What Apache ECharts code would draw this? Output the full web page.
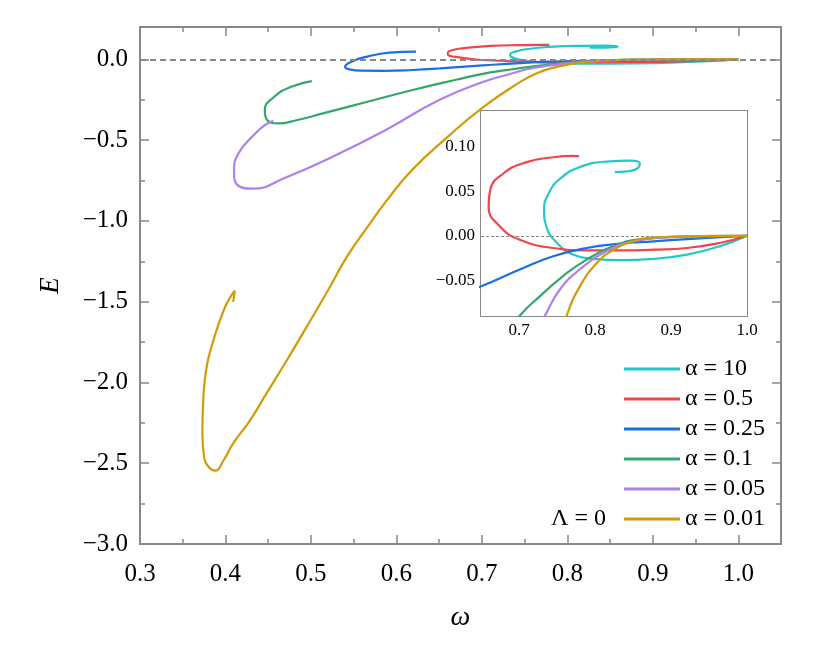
<!DOCTYPE html>
<html>
<head>
<meta charset="utf-8">
<script src="https://cdn.jsdelivr.net/npm/echarts@6/dist/echarts.min.js"></script>
<style>
    html, body { margin: 0; background: #fff; }
    #chart { width: 814px; height: 657px; }
</style>
</head>
<body>
<div id="chart"></div>
<script>
// curves E(omega), ordered from omega = 1 to the spiral end
const names = ['α = 10', 'α = 0.5', 'α = 0.25', 'α = 0.1', 'α = 0.05', 'α = 0.01']
const colors = ['#22c9c9', '#f2444b', '#1b6fe6', '#36a56d', '#ad80ee', '#d19b07']

const w10 = [1.0, 0.964, 0.921, 0.877, 0.833, 0.798, 0.771, 0.750, 0.736, 0.733, 0.739, 0.754, 0.780, 0.815, 0.846, 0.859, 0.855, 0.842, 0.826]
const e10 = [0, -0.0119, -0.0211, -0.0259, -0.0274, -0.0259, -0.0211, -0.0081, 0.0104, 0.0289, 0.0474, 0.064, 0.077, 0.0833, 0.0844, 0.0807, 0.0752, 0.0722, 0.0715]

const w05 = [1.0, 0.964, 0.921, 0.877, 0.833, 0.789, 0.745, 0.701, 0.675, 0.660, 0.662, 0.679, 0.710, 0.745, 0.771, 0.779]
const e05 = [0, -0.0081, -0.0137, -0.0156, -0.0163, -0.0163, -0.0137, -0.0044, 0.0104, 0.0326, 0.0511, 0.0696, 0.0826, 0.0881, 0.0896, 0.0890]

const w025 = [1.0, 0.965, 0.921, 0.877, 0.833, 0.789, 0.745, 0.701, 0.651, 0.619, 0.585, 0.560, 0.545, 0.540, 0.548, 0.566, 0.592, 0.623]
const e025 = [0, -0.0015, -0.0037, -0.0063, -0.0089, -0.0137, -0.023, -0.0378, -0.0563, -0.066, -0.071, -0.070, -0.062, -0.046, -0.014, 0.017, 0.041, 0.048]

const w01 = [1.0, 0.92, 0.855, 0.824, 0.789, 0.758, 0.728, 0.701, 0.671, 0.619, 0.566, 0.514, 0.483, 0.462, 0.449, 0.446, 0.457, 0.477, 0.501]
const e01 = [0, -0.0007, -0.0044, -0.0119, -0.0267, -0.0452, -0.0674, -0.0897, -0.125, -0.190, -0.263, -0.335, -0.377, -0.397, -0.377, -0.315, -0.232, -0.170, -0.135]

const w005 = [1.0, 0.95, 0.9, 0.85, 0.815, 0.78, 0.754, 0.734, 0.702, 0.65, 0.587, 0.525, 0.472, 0.431, 0.416, 0.410, 0.415, 0.431, 0.446, 0.456]
const e005 = [0, -0.0003, -0.0015, -0.0063, -0.0174, -0.0378, -0.060, -0.0897, -0.139, -0.252, -0.439, -0.604, -0.728, -0.801, -0.786, -0.687, -0.584, -0.480, -0.408, -0.381]

const w001 = [1.0, 0.95, 0.92, 0.876, 0.85, 0.824, 0.803, 0.78, 0.763, 0.745, 0.702, 0.66, 0.618, 0.589, 0.565, 0.542, 0.519, 0.495, 0.472, 0.448, 0.429, 0.409, 0.398, 0.388, 0.380, 0.375, 0.373, 0.374, 0.378, 0.386, 0.398, 0.407, 0.411, 0.409]
const e001 = [0, -0.0002, -0.0008, -0.002, -0.0063, -0.016, -0.030, -0.057, -0.089, -0.14, -0.294, -0.48, -0.687, -0.872, -1.047, -1.223, -1.439, -1.656, -1.861, -2.068, -2.233, -2.377, -2.48, -2.546, -2.52, -2.459, -2.315, -2.109, -1.903, -1.738, -1.552, -1.46, -1.433, -1.501]

const omegas = [w10, w05, w025, w01, w005, w001]
const energies = [e10, e05, e025, e01, e005, e001]

// tick values
const mainXMajor = [0.3, 0.4, 0.5, 0.6, 0.7, 0.8, 0.9, 1.0]
const mainXMinor = [0.35, 0.45, 0.55, 0.65, 0.75, 0.85, 0.95]
const mainYMajor = [-3, -2.5, -2, -1.5, -1, -0.5, 0]
const mainYMinor = [-2.75, -2.25, -1.75, -1.25, -0.75, -0.25]
const insetXMajor = [0.7, 0.8, 0.9, 1.0]
const insetXMinor = [0.75, 0.85, 0.95]
const insetYMajor = [-0.05, 0, 0.05, 0.1]
const insetYMinor = [-0.075, -0.025, 0.025, 0.075, 0.125]

const serif = 'Liberation Serif, DejaVu Serif, serif'
const axisGray = '#888'

const fmt = (digits) => (v) => {
    const s = Math.abs(v).toFixed(digits)
    return v < -1e-9 ? '\u2212' + s : s
}

// one axis = one side, either major (with labels) or minor ticks
function axis(grid, pos, min, max, ticks, len, extra) {
    return Object.assign({
        type: 'value',
        gridIndex: grid,
        position: pos,
        min: min,
        max: max,
        axisLine: { show: true, onZero: false, lineStyle: { color: axisGray, width: 2 } },
        axisTick: { show: true, inside: true, length: len, customValues: ticks, lineStyle: { color: axisGray, width: 1.5 } },
        axisLabel: { show: false },
        splitLine: { show: false }
    }, extra || {})
}

const mainXLabel = { show: true, customValues: mainXMajor, formatter: fmt(1), margin: 18, fontFamily: serif, fontSize: 25, color: '#000' }
const mainYLabel = { show: true, customValues: mainYMajor, formatter: fmt(1), margin: 12, fontFamily: serif, fontSize: 25, color: '#000' }
const insetXLabel = { show: true, customValues: insetXMajor, formatter: fmt(1), margin: 6, fontFamily: serif, fontSize: 17, color: '#000' }
const insetYLabel = { show: true, customValues: insetYMajor, formatter: fmt(2), margin: 6, fontFamily: serif, fontSize: 17, color: '#000' }

const xAxes = [
    axis(0, 'bottom', 0.3, 1.05, mainXMajor, 9, {
        axisLabel: mainXLabel,
        name: 'ω', nameLocation: 'middle', nameGap: 60,
        nameTextStyle: { fontFamily: serif, fontStyle: 'italic', fontSize: 28, color: '#000' }
    }),
    axis(0, 'bottom', 0.3, 1.05, mainXMinor, 5),
    axis(0, 'top', 0.3, 1.05, mainXMajor, 9),
    axis(0, 'top', 0.3, 1.05, mainXMinor, 5),
    axis(1, 'bottom', 0.65, 1.0, insetXMajor, 4, { axisLabel: insetXLabel }),
    axis(1, 'bottom', 0.65, 1.0, insetXMinor, 2),
    axis(1, 'top', 0.65, 1.0, insetXMajor, 4),
    axis(1, 'top', 0.65, 1.0, insetXMinor, 2)
]
const yAxes = [
    axis(0, 'left', -3, 0.2, mainYMajor, 9, {
        axisLabel: mainYLabel,
        name: 'E', nameLocation: 'middle', nameGap: 76, nameRotate: 90,
        nameTextStyle: { fontFamily: serif, fontStyle: 'italic', fontSize: 27, color: '#000' }
    }),
    axis(0, 'left', -3, 0.2, mainYMinor, 5),
    axis(0, 'right', -3, 0.2, mainYMajor, 9),
    axis(0, 'right', -3, 0.2, mainYMinor, 5),
    axis(1, 'left', -0.09, 0.14, insetYMajor, 4, { axisLabel: insetYLabel }),
    axis(1, 'left', -0.09, 0.14, insetYMinor, 2),
    axis(1, 'right', -0.09, 0.14, insetYMajor, 4),
    axis(1, 'right', -0.09, 0.14, insetYMinor, 2)
]

const series = []
names.forEach((name, i) => {
    const data = omegas[i].map((w, k) => [w, energies[i][k]])
    // main panel
    series.push({
        name: name, type: 'line', xAxisIndex: 0, yAxisIndex: 0,
        data: data, smooth: 0.5, symbol: 'none', clip: true,
        lineStyle: { color: colors[i], width: 2.2 }, itemStyle: { color: colors[i] },
        z: 3,
        markLine: i === 0 ? {
            silent: true, symbol: 'none', label: { show: false },
            lineStyle: { color: '#888', type: [6, 4], width: 2 },
            data: [{ yAxis: 0 }]
        } : undefined
    })
    // inset panel
    series.push({
        name: name, type: 'line', xAxisIndex: 4, yAxisIndex: 4,
        data: data, smooth: 0.5, symbol: 'none', clip: true,
        lineStyle: { color: colors[i], width: 2.2 }, itemStyle: { color: colors[i] },
        z: 6,
        markLine: i === 0 ? {
            silent: true, symbol: 'none', label: { show: false },
            lineStyle: { color: '#666', type: [3, 2], width: 0.8 },
            data: [{ yAxis: 0 }]
        } : undefined
    })
})

const option = {
    animation: false,
    backgroundColor: '#fff',
    title: {
        text: 'Λ = 0', left: 546, top: 502,
        textStyle: { fontFamily: serif, fontSize: 24, fontWeight: 'normal', color: '#000' }
    },
    legend: {
        data: names,
        orient: 'vertical',
        left: 619, top: 352,
        icon: 'rect', itemWidth: 56, itemHeight: 3, itemGap: 6,
        textStyle: { fontFamily: serif, fontSize: 24, color: '#000', lineHeight: 24 }
    },
    grid: [
        { left: 140, top: 27, width: 641, height: 517 },
        { left: 481, top: 111, width: 266, height: 205, show: true, backgroundColor: '#fff', borderWidth: 0, z: 5 }
    ],
    xAxis: xAxes,
    yAxis: yAxes,
    series: series
}

const chart = echarts.init(document.getElementById('chart'))
chart.setOption(option)
</script>
</body>
</html>
